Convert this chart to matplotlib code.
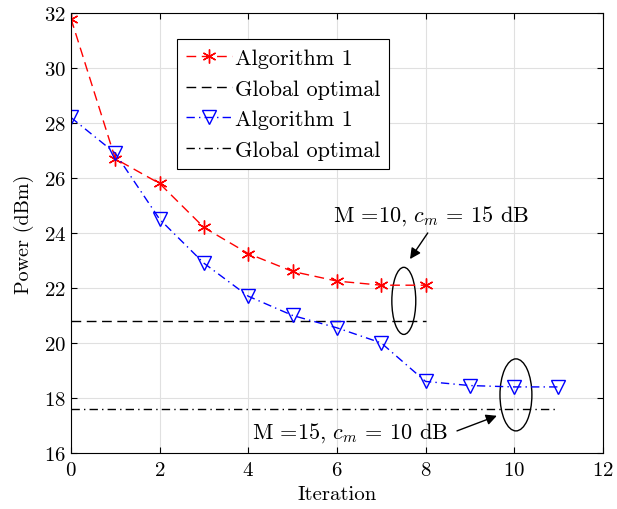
import matplotlib
matplotlib.use("Agg")
import matplotlib.pyplot as plt
from matplotlib.patches import Ellipse

plt.rcParams['font.family'] = 'serif'
plt.rcParams['font.serif'] = ['cmr10']
plt.rcParams['mathtext.fontset'] = 'cm'
plt.rcParams['axes.formatter.use_mathtext'] = True

iter_a = [0, 1, 2, 3, 4, 5, 6, 7, 8]
alg1_m10 = [31.8, 26.7, 25.8, 24.2, 23.25, 22.6, 22.25, 22.1, 22.1]
iter_b = [0, 1, 2, 3, 4, 5, 6, 7, 8, 9, 10, 11]
alg1_m15 = [28.2, 26.9, 24.5, 22.9, 21.7, 21.0, 20.55, 20.0, 18.6, 18.45, 18.4, 18.4]
opt_m10 = 20.8
opt_m15 = 17.6
xticks = [0, 2, 4, 6, 8, 10, 12]
yticks = [16, 18, 20, 22, 24, 26, 28, 30, 32]

fig = plt.figure(figsize=(6.17, 5.10), dpi=100)
ax = fig.add_axes([0.115, 0.110, 0.862, 0.8625])

dash = (0, (7, 4))
dashdot = (0, (6, 3, 1, 3))
ax.plot(iter_a, alg1_m10, color='red', ls=dash, lw=1.0, marker=(6, 2, 0),
        ms=10, mfc='none', mec='red', mew=1.0, label='Algorithm 1')
ax.plot([iter_a[0], iter_a[-1]], [opt_m10, opt_m10], color='black', ls=dash, lw=1.0,
        label='Global optimal')
ax.plot(iter_b, alg1_m15, color='blue', ls=dashdot, lw=1.0, marker='v',
        ms=10.5, mfc='none', mec='blue', mew=1.0, label='Algorithm 1')
ax.plot([iter_b[0], iter_b[-1]], [opt_m15, opt_m15], color='black', ls=dashdot, lw=1.0,
        label='Global optimal')

ax.add_patch(Ellipse((7.51, 21.53), 0.54, 2.44, fill=False, ec='black', lw=1.0))
ax.add_patch(Ellipse((10.04, 18.11), 0.72, 2.62, fill=False, ec='black', lw=1.0))

ax.text(8.12, 24.44, r'M =10, $c_m$ = 15 dB', fontsize=16, ha='center', va='baseline')
ax.annotate('', xy=(7.65, 23.05), xytext=(8.05, 24.0),
            arrowprops=dict(arrowstyle='-|>', color='black', lw=1.0, mutation_scale=16,
                            shrinkA=0, shrinkB=0))
ax.text(6.29, 16.76, r'M =15, $c_m$ = 10 dB', fontsize=16, ha='center', va='center')
ax.annotate('', xy=(9.61, 17.35), xytext=(8.71, 16.8),
            arrowprops=dict(arrowstyle='-|>', color='black', lw=1.0, mutation_scale=16,
                            shrinkA=0, shrinkB=0))

ax.set_xlim(0, 12)
ax.set_ylim(16, 32)
ax.set_xticks(xticks)
ax.set_yticks(yticks)
ax.tick_params(direction='in', labelsize=15, length=4, top=True, right=True)
ax.tick_params(axis='x', pad=6)
ax.grid(True, color='#e0e0e0', lw=0.8)
ax.set_axisbelow(True)
for s in ax.spines.values():
    s.set_linewidth(0.8)
ax.set_xlabel('Iteration', fontsize=15, labelpad=4)
ax.set_ylabel('Power (dBm)', fontsize=14.5, labelpad=7)

leg = ax.legend(loc='upper left', bbox_to_anchor=(0.199, 0.94), fontsize=16,
                handlelength=2.1, handletextpad=0.1, borderpad=0.4, labelspacing=0.5,
                borderaxespad=0, fancybox=False, edgecolor='black', framealpha=1)
leg.get_frame().set_linewidth(0.8)

fig.savefig('out.png', dpi=100)
